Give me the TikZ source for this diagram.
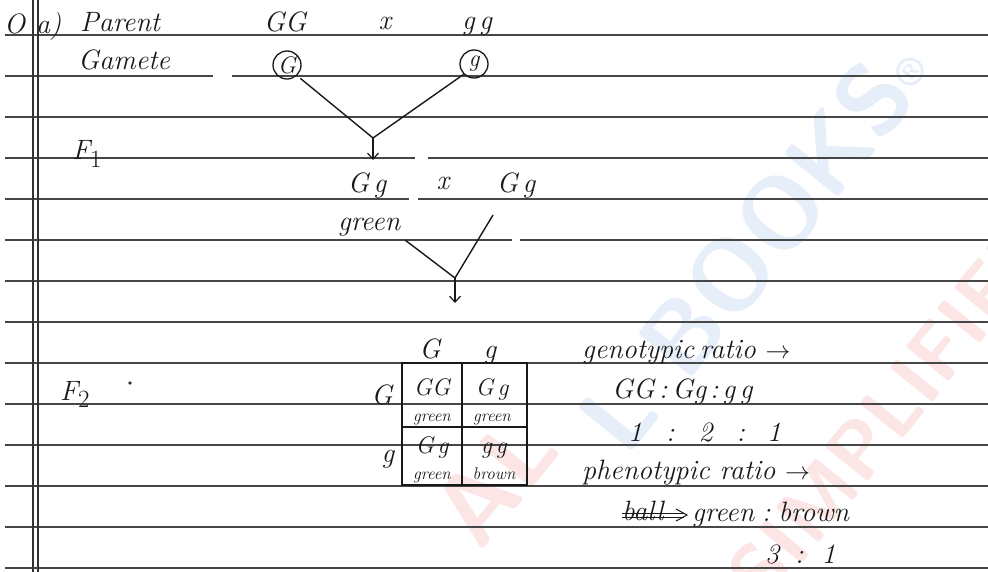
\documentclass[tikz,border=0pt]{standalone}
\usepackage{fontspec}
\usetikzlibrary{arrows.meta}
\definecolor{wmblue}{RGB}{60,130,210}
\definecolor{wmred}{RGB}{225,60,60}
\definecolor{ruling}{RGB}{70,70,70}
\tikzset{
  hand/.style={font=\fontsize{28}{30}\selectfont\itshape, inner sep=0pt, text=black!90},
  handmd/.style={font=\fontsize{24}{26}\selectfont\itshape, inner sep=0pt, text=black!90},
  handsm/.style={font=\fontsize{17}{18}\selectfont\itshape, inner sep=0pt, text=black!90},
  ruled/.style={draw=ruling, line width=1.1pt},
  ink/.style={draw=black!90, line width=1.4pt},
  barb/.style={-{Straight Barb[length=6pt,width=11pt,line width=1.2pt]}},
  wm/.style={inner sep=0pt, font=\fontsize{100}{100}\selectfont\sffamily\bfseries, rotate=51, opacity=0.13}
}
\begin{document}
\begin{tikzpicture}[x=1pt,y=-1pt]
\useasboundingbox (0,0) rectangle (988,572);
\clip (0,0) rectangle (988,572);
\fill[white] (0,0) rectangle (988,572);
% watermark
\node[wm, text=wmred] (wmA) at (495,480) {AL};
\node[wm, text=wmblue] (wmB) at (755,245) {L BOOKS\textsuperscript{\fontsize{40}{40}\selectfont ®}};
\node[wm, text=wmred, font=\fontsize{80}{80}\selectfont\sffamily\bfseries, anchor=west] (wmC) at (745,590) {SIMPLIFIED};
% ruled lines
\foreach \yy in {35,117,281,322,363,404,445,486,527,568}{
  \draw[ruled] (5,\yy) -- (988,\yy);
}
\draw[ruled] (5,76) -- (213,76); \draw[ruled] (232,76) -- (988,76);
\draw[ruled] (5,158) -- (415,158); \draw[ruled] (428,158) -- (988,158);
\draw[ruled] (5,199) -- (409,199); \draw[ruled] (418,199) -- (988,199);
\draw[ruled] (5,240) -- (512,240); \draw[ruled] (520,240) -- (988,240);
% margin
\draw[draw=black!80, line width=1.3pt] (33,0) -- (33,572);
\draw[draw=black!80, line width=1.3pt] (38,0) -- (38,572);
% header
\node[hand, anchor=base west] (q) at (4,34) {O};
\node[hand, anchor=base west] (qa) at (36,34) {a)};
\node[hand, anchor=base west] (parent) at (80,32) {Parent};
\node[hand, anchor=base west] (gamete) at (78,70) {Gamete};
\node[hand, anchor=base west] (F1) at (72,160) {F$_{\textstyle 1}$};
\node[hand, anchor=base west] (F2) at (60,400) {F$_{\textstyle 2}$};
\fill[black!80] (130,383) circle (1.8pt);
% parents
\node[hand, anchor=base] (pGG) at (285,32) {GG};
\node[hand, anchor=base] (px) at (385,30) {x};
\node[hand, anchor=base] (pgg) at (477,30) {g\,g};
% gametes
\node[handmd, draw=black!90, line width=1.3pt, circle, minimum size=28pt] (gamG) at (287,65) {G};
\node[handmd, draw=black!90, line width=1.3pt, circle, minimum size=28pt] (gamg) at (474,64) {g};
\coordinate (m1) at (373,138);
\coordinate (m1e) at (373,160);
\draw[ink] (gamG.south east) ++(3,3) -- (m1);
\draw[ink] (gamg.south west) -- (m1);
\draw[ink, barb] (m1) -- (m1e);
% F1 cross
\node[hand, anchor=base] (f1a) at (367,193) {G\,g};
\node[hand, anchor=base] (f1x) at (443,190) {x};
\node[hand, anchor=base] (f1b) at (516,193) {G\,g};
\node[hand, anchor=base west] (green1) at (338,230) {green};
\coordinate (m2) at (455,278);
\coordinate (m2e) at (455,303);
\draw[ink] (405,240) -- (m2);
\draw[ink] (493,215) -- (m2);
\draw[ink, barb] (m2) -- (m2e);
% Punnett square
\draw[ink] (402,363) rectangle (527,485);
\draw[ink] (462,363) -- (462,485);
\draw[ink] (402,427) -- (527,427);
\node[hand, anchor=base] (cG) at (430,358) {G};
\node[hand, anchor=base] (cg) at (490,358) {g};
\node[hand, anchor=base] (rG) at (382,404) {G};
\node[hand, anchor=base] (rg) at (388,462) {g};
\node[handmd, anchor=base] (c11) at (432,395) {GG};
\node[handsm, anchor=base] (c11p) at (432,421) {green};
\node[handmd, anchor=base] (c12) at (492,395) {G\,g};
\node[handsm, anchor=base] (c12p) at (492,421) {green};
\node[handmd, anchor=base] (c21) at (432,453) {G\,g};
\node[handsm, anchor=base] (c21p) at (432,479) {green};
\node[handmd, anchor=base] (c22) at (494,453) {g\,g};
\node[handsm, anchor=base] (c22p) at (494,479) {brown};
% ratios
\node[hand, anchor=base west] (geno) at (582,358) {genotypic\hspace{6pt}ratio $\rightarrow$};
\node[hand, anchor=base west] (genoR) at (612,398) {GG\,:\,Gg\hspace{4pt}:\hspace{4pt}g\,g};
\node[hand, anchor=base west] (genoN) at (628,441) {1\hspace{24pt}:\hspace{24pt}2\hspace{24pt}:\hspace{22pt}1};
\node[hand, anchor=base west] (pheno) at (582,479) {phenotypic\hspace{10pt}ratio $\rightarrow$};
\node[hand, anchor=base west] (ball) at (622,520) {ball};
\draw[ink, line width=1pt] (622,513) -- (684,513);
\draw[ink, line width=1pt] (622,517) -- (684,517);
\draw[ink, line width=1pt] (676,509) -- (687,515) -- (676,521);
\node[hand, anchor=base west] (phenoR) at (692,521) {green\hspace{8pt}:\hspace{8pt}brown};
\node[hand, anchor=base west] (phenoN) at (765,563) {3\hspace{16pt}:\hspace{18pt}1};
\end{tikzpicture}
\end{document}
